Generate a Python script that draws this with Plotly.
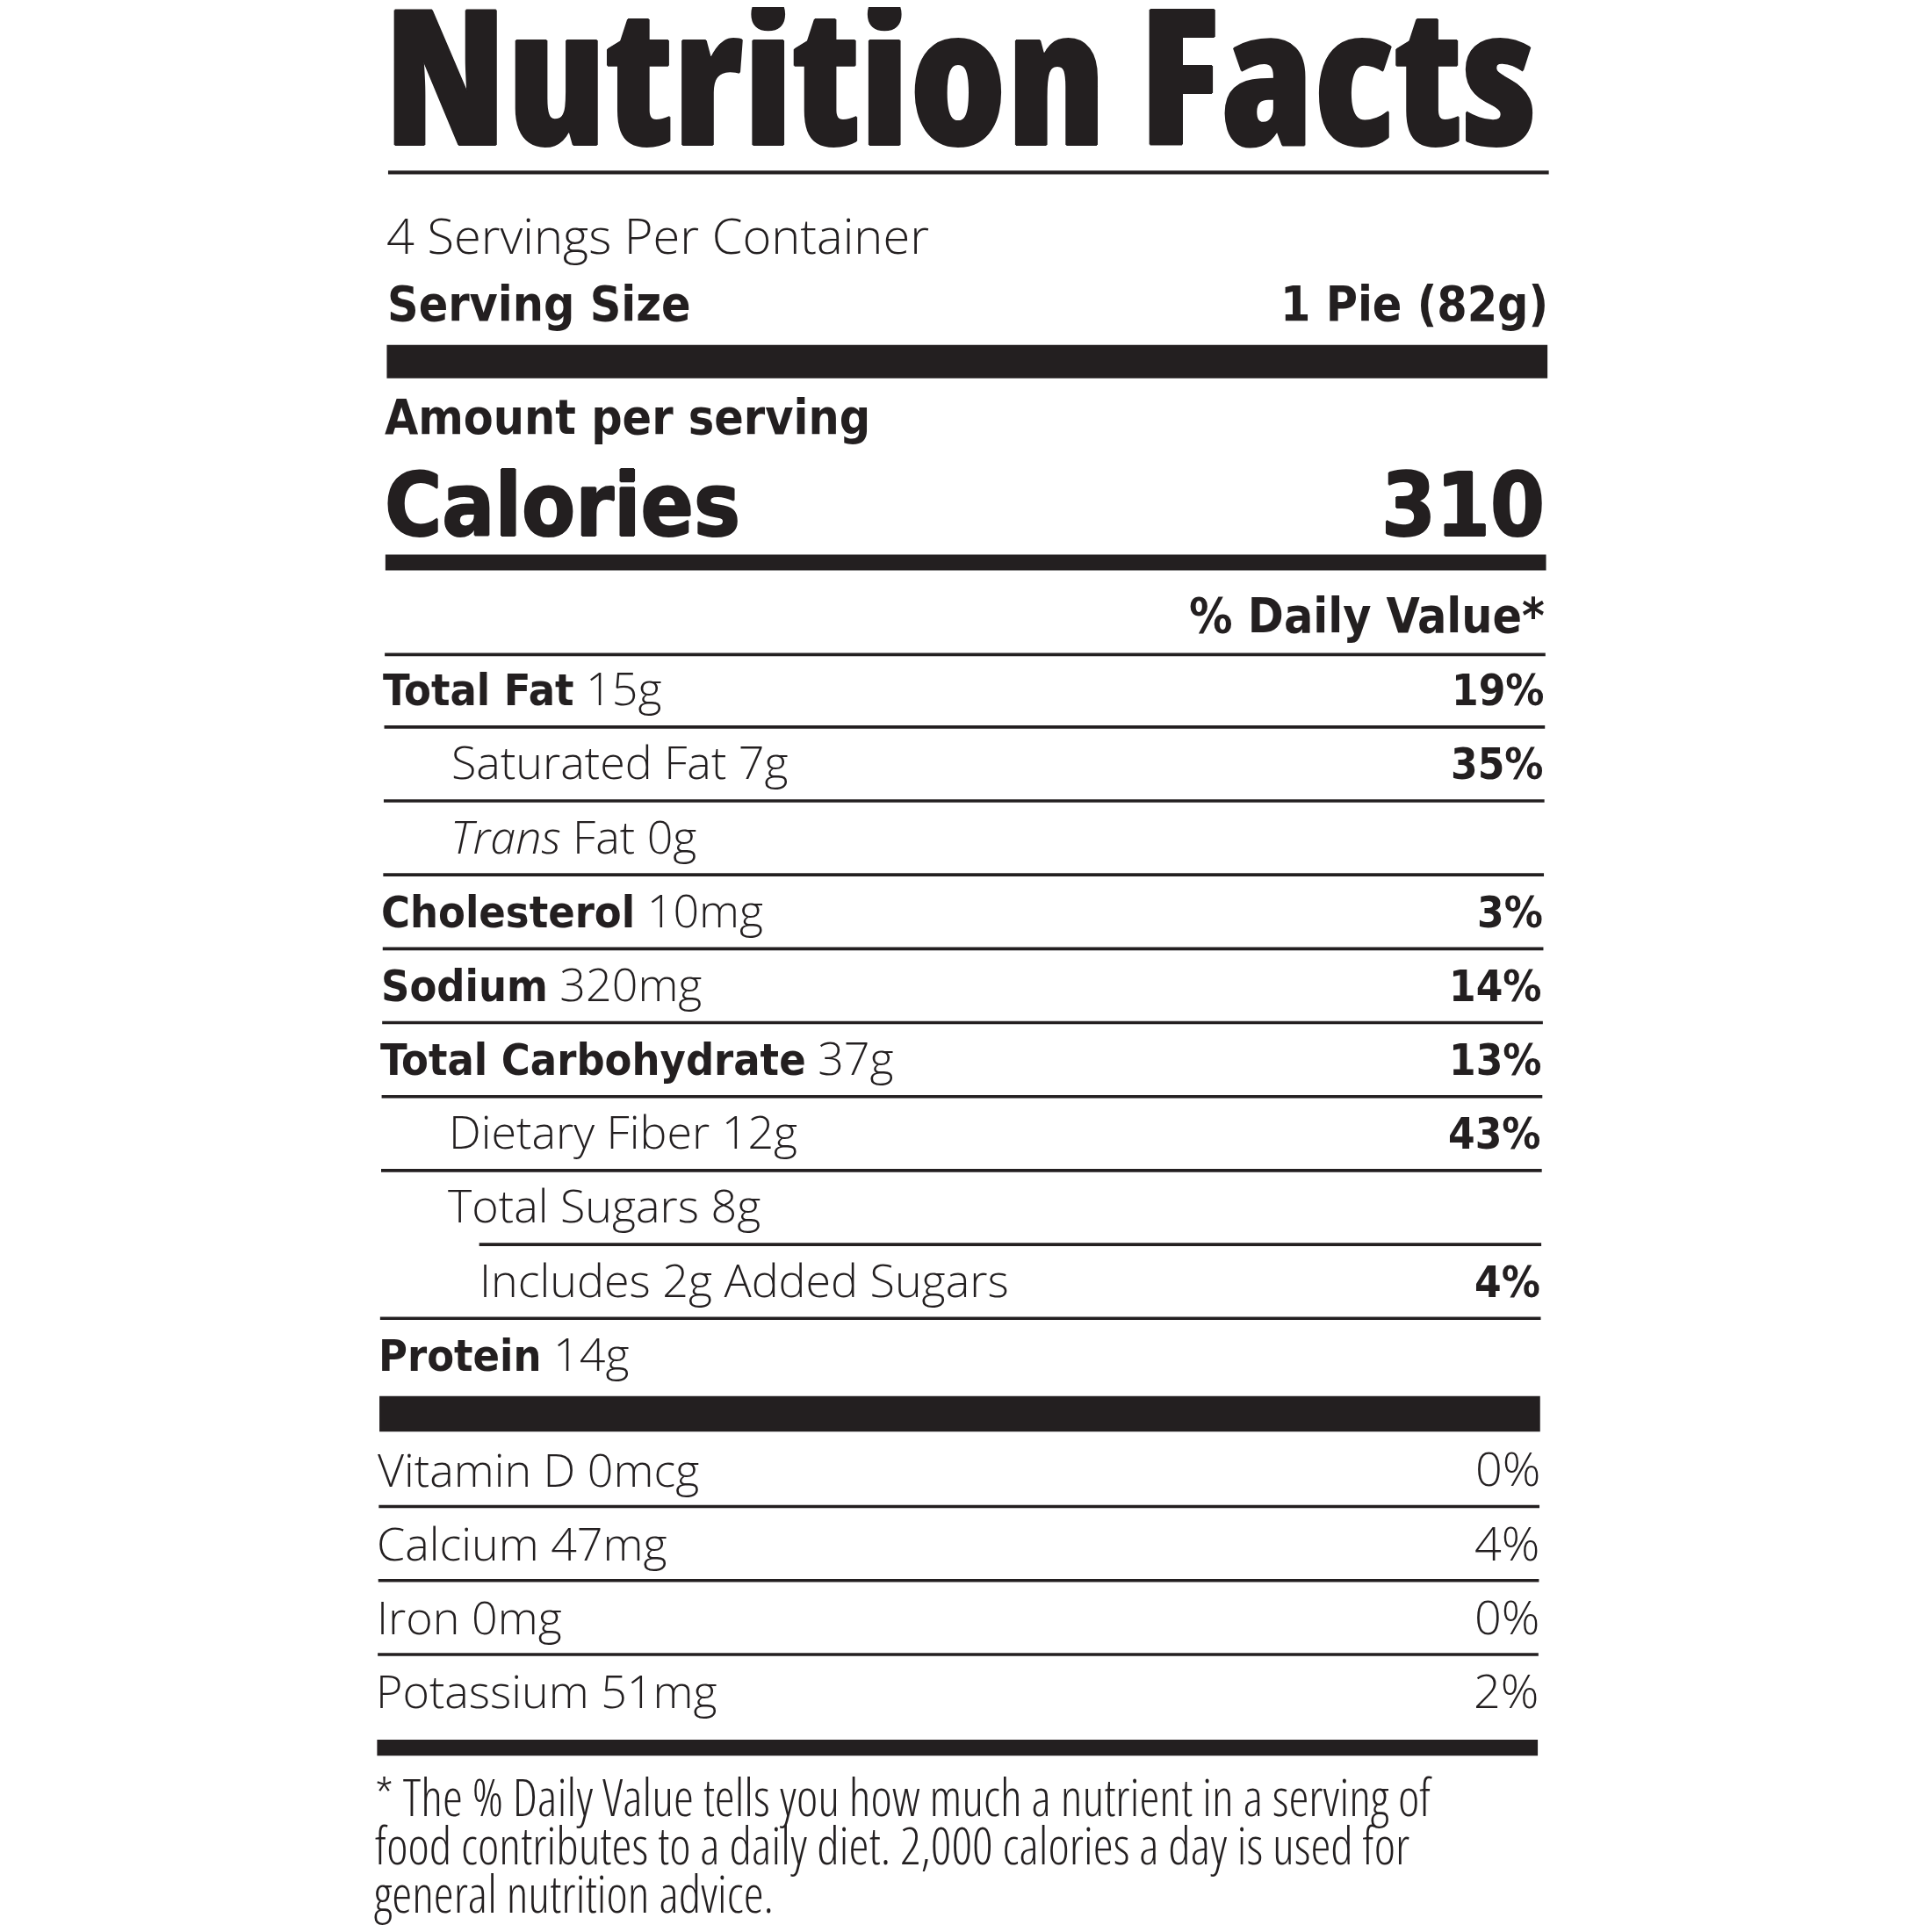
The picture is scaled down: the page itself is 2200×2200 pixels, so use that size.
import plotly.graph_objects as go

# label contents
servings_text = "4 Servings Per Container"
serving_size = "1 Pie (82g)"
calories = "310"

nutrients = ["Total Fat", "Saturated Fat", "<i>Trans</i> Fat", "Cholesterol", "Sodium",
             "Total Carbohydrate", "Dietary Fiber", "Total Sugars", "Includes 2g Added Sugars",
             "Protein"]
amounts = ["15g", "7g", "0g", "10mg", "320mg", "37g", "12g", "8g", "", "14g"]
daily_values = ["19%", "35%", "", "3%", "14%", "13%", "43%", "", "4%", ""]

vitamins = ["Vitamin D", "Calcium", "Iron", "Potassium"]
vitamin_amounts = ["0mcg", "47mg", "0mg", "51mg"]
vitamin_daily = ["0%", "4%", "0%", "2%"]

footnote = ["* The % Daily Value tells you how much a nutrient in a serving of",
            "food contributes to a daily diet. 2,000 calories a day is used for",
            "general nutrition advice."]

# layout, measured on a 1568 px grid and scaled to the page
S = 2200 / 1568
PAD = 8  # the page body keeps its default 8px margin
BOLD = "DejaVu Sans Condensed"
LIGHT = "Open Sans"
INK = "#231f20"
indent = [0, 1, 1, 0, 0, 0, 1, 1, 2, 0]
bold_name = [True, False, False, True, True, True, False, False, False, True]
indent_px = [0, 56, 82]


def P(v):
    return v * S - PAD


def skew(y):
    # the label is photographed slightly rotated
    return -9 * (y - 140) / 1285


def left(y):
    return 315 + skew(y)


def right(y):
    return 1257 + skew(y)


def heavy(px):
    return ", ".join(f"{dx}px {dy}px 0 {INK}" for dx, dy in
                     [(px, 0), (-px, 0), (0, px), (0, -px)])


def narrow(s, pct):
    return f'<span style="font-stretch:{pct}%">{s}</span>'


def boldspan(s, size):
    return (f'<span style="font-family:{BOLD};font-weight:700;'
            f'font-stretch:normal;font-size:{size}px">{s}</span>')


fig = go.Figure()
shapes = []
annotations = []


def rule(y0, y1, x0=None):
    ym = (y0 + y1) / 2
    xa = left(ym) if x0 is None else x0 + skew(ym)
    shapes.append(dict(type="rect", xref="x", yref="y", x0=P(xa), x1=P(right(ym)),
                       y0=P(y0), y1=P(y1), fillcolor=INK, line=dict(width=0), layer="above"))


def text(s, x, baseline, size, anchor="left", shadow=None, family=BOLD, weight="bold"):
    k = 0.35 if family == BOLD else 0.41
    font = dict(family=family, size=size, color=INK, weight=weight)
    if shadow:
        font["shadow"] = shadow
    annotations.append(dict(text=s, x=P(x), y=P(baseline) - k * size, xref="x", yref="y",
                            xanchor=anchor, yanchor="middle", showarrow=False,
                            borderpad=0, font=font))


# header
text(narrow("Nutrition Facts", 75), left(70) - 4.5, 121, 214, family=LIGHT, weight=800,
     shadow=heavy(1))
rule(138.5, 141.5)
text(narrow(servings_text, 89), left(190) - 2, 207, 56, family=LIGHT, weight=300)
text("Serving Size", left(245) - 1, 260, 55)
text(serving_size, right(245) + 1, 260, 55, anchor="right")
rule(280, 307)
text("Amount per serving", left(335) - 2, 352, 55)
text("Calories", left(405) - 2, 435, 99, shadow=heavy(1))
text(calories, right(405) - 1, 435, 99, anchor="right", shadow=heavy(1))
rule(450, 463)
text("% Daily Value*", right(495), 513, 55, anchor="right")
rule(530, 532.5)

# nutrient rows
ROW = 60
for i, name in enumerate(nutrients):
    base = 573 + ROW * i
    label = boldspan(name, 50) if bold_name[i] else name
    if amounts[i]:
        label += " " + amounts[i]
    text(narrow(label, 88), left(base - 15) - 2 + indent_px[indent[i]], base, 52,
         family=LIGHT, weight=300)
    if daily_values[i]:
        text(daily_values[i], right(base - 15), base, 49, anchor="right")
    if i < len(nutrients) - 1:
        ly = base + 17
        if indent[i + 1] == 2:
            rule(ly - 1.3, ly + 1.3, x0=395)
        else:
            rule(ly - 1.3, ly + 1.3)
rule(1133, 1162)

# vitamins and minerals
for i, name in enumerate(vitamins):
    base = 1207 + ROW * i
    text(narrow(name + " " + vitamin_amounts[i], 88), left(base - 15) - 2, base, 52,
         family=LIGHT, weight=300)
    text(narrow(vitamin_daily[i], 88), right(base - 15) + 1, base, 54, anchor="right",
         family=LIGHT, weight=300)
    if i < len(vitamins) - 1:
        rule(base + 14.5, base + 17)
rule(1412, 1425)

for i, line in enumerate(footnote):
    base = 1475 + 39 * i
    text(narrow(line, 75), left(base - 12) - 2, base, 58, family=LIGHT, weight=300)

fig.update_layout(
    width=2200, height=2200,
    margin=dict(l=0, r=0, t=0, b=0),
    paper_bgcolor="white", plot_bgcolor="white",
    xaxis=dict(range=[0, 2200], visible=False, fixedrange=True),
    yaxis=dict(range=[2200, 0], visible=False, fixedrange=True),
    shapes=shapes, annotations=annotations, showlegend=False,
)

fig.write_html("out.html")
